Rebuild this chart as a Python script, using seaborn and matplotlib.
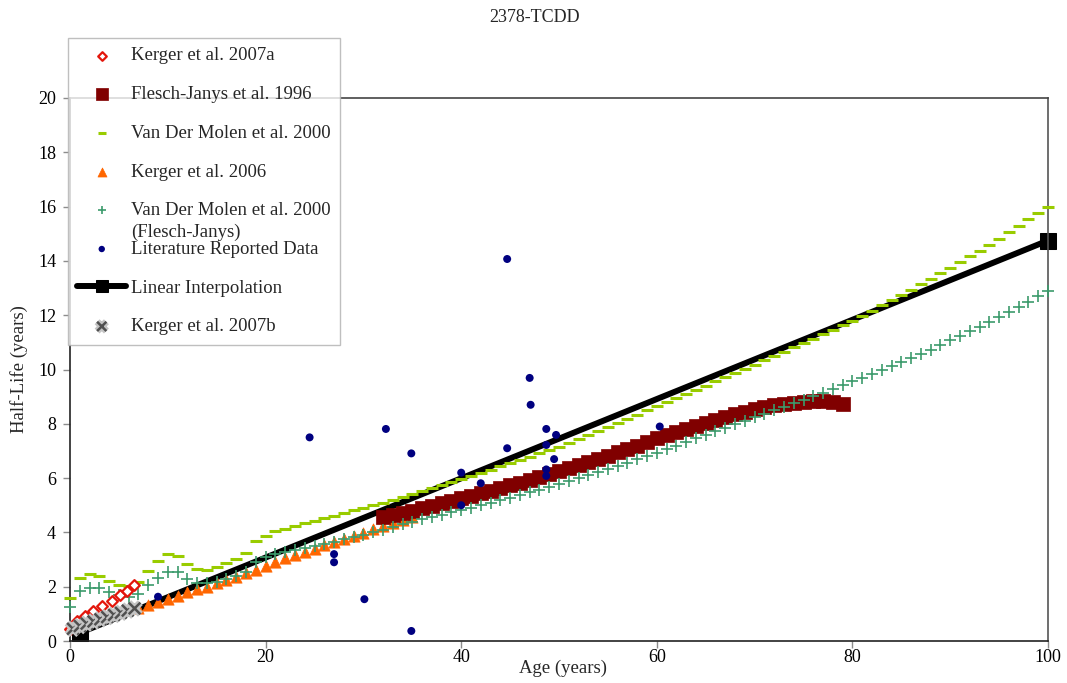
import numpy as np
import pandas as pd
import matplotlib
matplotlib.use("Agg")
import matplotlib.pyplot as plt
import matplotlib.patheffects as pe
import seaborn as sns

# ---------------- data ----------------
kerger07a_age = [0.0, 0.7, 1.5, 2.4, 3.3, 4.3, 5.1, 5.8, 6.5]
kerger07a_hl = [0.45, 0.72, 0.92, 1.10, 1.30, 1.48, 1.68, 1.85, 2.08]

kerger07b_age = [0.3, 1.0, 1.7, 2.4, 3.1, 3.8, 4.5, 5.2, 5.9, 6.6]
kerger07b_hl = [0.45, 0.55, 0.64, 0.72, 0.80, 0.88, 0.96, 1.04, 1.12, 1.20]

fj96_age = list(range(32, 80))
fj96_hl = [4.55, 4.63, 4.72, 4.80, 4.89, 4.98, 5.07, 5.16, 5.26, 5.35,
           5.44, 5.53, 5.63, 5.73, 5.83, 5.93, 6.03, 6.14, 6.25, 6.36,
           6.48, 6.59, 6.71, 6.83, 6.95, 7.07, 7.20, 7.33, 7.46, 7.58,
           7.70, 7.82, 7.93, 8.04, 8.15, 8.25, 8.35, 8.44, 8.53, 8.61,
           8.68, 8.74, 8.78, 8.81, 8.83, 8.83, 8.80, 8.72]

vdm_age = list(range(0, 101))
vdm_hl = [1.57, 2.31, 2.46, 2.41, 2.21, 2.06, 2.04, 2.16, 2.58, 2.95,
          3.20, 3.14, 2.82, 2.64, 2.62, 2.71, 2.86, 3.01, 3.25, 3.69,
          3.88, 4.05, 4.14, 4.24, 4.33, 4.43, 4.52, 4.62, 4.71, 4.81,
          4.90, 5.00, 5.10, 5.20, 5.30, 5.40, 5.51, 5.62, 5.73, 5.84,
          5.95, 6.07, 6.19, 6.31, 6.43, 6.55, 6.67, 6.79, 6.91, 7.03,
          7.15, 7.28, 7.43, 7.58, 7.73, 7.88, 8.03, 8.18, 8.34, 8.50,
          8.65, 8.80, 8.95, 9.10, 9.26, 9.41, 9.57, 9.72, 9.87, 10.03,
          10.18, 10.34, 10.50, 10.66, 10.82, 10.98, 11.14, 11.30, 11.46, 11.63,
          11.80, 11.98, 12.17, 12.36, 12.55, 12.74, 12.94, 13.14, 13.34, 13.54,
          13.75, 13.96, 14.17, 14.38, 14.59, 14.80, 15.05, 15.30, 15.53, 15.76,
          16.00]

kerger06_age = list(range(7, 36))
kerger06_hl = [1.20, 1.33, 1.43, 1.56, 1.67, 1.80, 1.90, 2.00, 2.12, 2.25,
               2.37, 2.49, 2.62, 2.78, 2.92, 3.04, 3.16, 3.28, 3.40, 3.52,
               3.63, 3.75, 3.87, 3.99, 4.11, 4.23, 4.34, 4.46, 4.58]

vdmfj_age = list(range(0, 101))
vdmfj_hl = [1.26, 1.84, 1.94, 1.94, 1.82, 1.69, 1.63, 1.72, 2.06, 2.31,
            2.55, 2.53, 2.28, 2.12, 2.12, 2.18, 2.28, 2.39, 2.55, 2.92,
            3.10, 3.22, 3.29, 3.36, 3.44, 3.51, 3.58, 3.65, 3.74, 3.83,
            3.92, 4.01, 4.10, 4.20, 4.30, 4.40, 4.48, 4.57, 4.65, 4.74,
            4.82, 4.91, 5.00, 5.09, 5.18, 5.27, 5.37, 5.47, 5.57, 5.67,
            5.78, 5.89, 6.00, 6.11, 6.22, 6.33, 6.45, 6.57, 6.69, 6.81,
            6.94, 7.07, 7.20, 7.33, 7.46, 7.59, 7.72, 7.85, 7.98, 8.11,
            8.24, 8.37, 8.50, 8.63, 8.76, 8.89, 9.02, 9.15, 9.28, 9.42,
            9.56, 9.70, 9.84, 9.98, 10.12, 10.26, 10.41, 10.57, 10.73, 10.90,
            11.07, 11.24, 11.41, 11.58, 11.76, 11.94, 12.12, 12.30, 12.49, 12.69,
            12.89]

lit_age = [9.0, 24.5, 27.0, 27.0, 30.1, 32.3, 34.9, 34.9, 40.0, 40.0, 42.0,
           44.7, 44.7, 47.0, 47.1, 48.7, 49.7, 48.7, 49.5, 48.7, 48.7, 60.3]
lit_hl = [1.63, 7.50, 3.20, 2.90, 1.54, 7.81, 6.91, 0.37, 6.20, 5.00, 5.81,
          14.07, 7.10, 9.69, 8.70, 7.81, 7.59, 7.22, 6.70, 6.32, 6.08, 7.90]

interp_age = [1.0, 100.0]
interp_hl = [0.30, 14.75]

title = "2378-TCDD"
x_label = "Age (years)"
y_label = "Half-Life (years)"
x_ticks = [0, 20, 40, 60, 80, 100]
y_ticks = [0, 2, 4, 6, 8, 10, 12, 14, 16, 18, 20]

# ---------------- style ----------------
sns.set_theme(style="ticks")
plt.rcParams["font.family"] = ["Liberation Serif", "DejaVu Serif"]
plt.rcParams["font.size"] = 13

W, H = 1067, 683
fig = plt.figure(figsize=(W / 100, H / 100), dpi=100)
fig.patch.set_facecolor("white")
ax = fig.add_axes([70 / W, 1 - 641 / H, (1048 - 70) / W, (641 - 98) / H])
ax.set_facecolor("white")

# linear interpolation line
sns.lineplot(x=interp_age, y=interp_hl, ax=ax, color="black", lw=4.3,
             marker="s", markersize=11.5, markeredgecolor="black",
             label="Linear Interpolation", zorder=2, clip_on=False,
             sort=False, estimator=None)

sns.scatterplot(x=kerger06_age, y=kerger06_hl, ax=ax, marker="^", s=66,
                color="#ff6600", edgecolor="#ff6600", linewidth=0.5, zorder=3,
                clip_on=False, label="Kerger et al. 2006")
sns.scatterplot(x=fj96_age, y=fj96_hl, ax=ax, marker="s", s=110, color="#800000",
                edgecolor="#800000", linewidth=0.5, zorder=3, clip_on=False,
                label="Flesch-Janys et al. 1996")
sns.scatterplot(x=vdm_age, y=vdm_hl, ax=ax, marker="_", s=64, color="#99cc00",
                linewidth=2.2, zorder=4, clip_on=False,
                label="Van Der Molen et al. 2000")
sns.scatterplot(x=vdmfj_age, y=vdmfj_hl, ax=ax, marker="+", s=64, color="#3c9b6c",
                linewidth=1.2, zorder=5, clip_on=False,
                label="Van Der Molen et al. 2000 ")
sns.scatterplot(x=lit_age, y=lit_hl, ax=ax, marker="o", s=33, color="#000080",
                edgecolor="none", zorder=6, clip_on=False,
                label="Literature Reported Data")
sns.scatterplot(x=kerger07a_age, y=kerger07a_hl, ax=ax, marker="D", s=30,
                facecolor="white", edgecolor="#e3160c", linewidth=1.6, zorder=6,
                clip_on=False, label="Kerger et al. 2007a")
sns.scatterplot(x=kerger07b_age, y=kerger07b_hl, ax=ax, marker="x", s=70,
                color="#505050", linewidth=1.8, zorder=7, clip_on=False,
                label="Kerger et al. 2007b")

# gray halo for Kerger 2007b
for coll in ax.collections:
    if coll.get_label() == "Kerger et al. 2007b":
        coll.set_path_effects([pe.withStroke(linewidth=5, foreground="#c4c4c4")])

ax.set_xlim(0, 100)
ax.set_ylim(0, 20)
ax.set_xticks(x_ticks)
ax.set_yticks(y_ticks)
ax.set_xticklabels([str(t) for t in x_ticks])
ax.set_yticklabels([str(t) for t in y_ticks])
ax.tick_params(axis="both", direction="out", length=5, width=1, color="#8c8c8c",
               labelsize=13, labelcolor="black")
ax.tick_params(axis="y", pad=5)
ax.tick_params(axis="x", pad=1)
for side in ["left", "bottom", "top", "right"]:
    ax.spines[side].set_visible(True)
    ax.spines[side].set_linewidth(1.2)
ax.spines["left"].set_color("#222222")
ax.spines["bottom"].set_color("#222222")
ax.spines["top"].set_color("#444444")
ax.spines["right"].set_color("#555555")

ax.set_xlabel(x_label, fontsize=13.5)
ax.set_ylabel(y_label, fontsize=13.5)
ax.xaxis.set_label_coords((563 - 70) / 978, -(660 - 641) / 543)
ax.yaxis.set_label_coords(-(70 - 28) / 978, 0.5)

fig.text(535 / W, 1 - 18 / H, title, ha="center", va="center", fontsize=13)

# legend in reference order
handles, labels = ax.get_legend_handles_labels()
hmap = dict(zip(labels, handles))
order = ["Kerger et al. 2007a", "Flesch-Janys et al. 1996",
         "Van Der Molen et al. 2000", "Kerger et al. 2006",
         "Van Der Molen et al. 2000 ", "Literature Reported Data",
         "Linear Interpolation", "Kerger et al. 2007b"]
leg = ax.legend([hmap[k] for k in order], [k.rstrip() for k in order],
                loc="upper left", bbox_to_anchor=(68 / W, 1 - 38 / H),
                bbox_transform=fig.transFigure, frameon=True, fancybox=False,
                shadow=False, fontsize=13.5, borderpad=0.5, handlelength=2.6,
                handletextpad=0.25, labelspacing=1.15, borderaxespad=0,
                scatterpoints=1, numpoints=1, markerscale=0.8)
leg.get_frame().set_edgecolor("#b0b0b0")
leg.get_frame().set_linewidth(1.0)
leg.set_zorder(20)

fig.canvas.draw()
t5 = leg.get_texts()[4]
bb = t5.get_window_extent()
fig.text(bb.x0 / W, (bb.y1 - 21) / H, "(Flesch-Janys)", ha="left", va="top",
         fontsize=13.5, zorder=21)

fig.savefig("out.png", dpi=100, facecolor="white")
